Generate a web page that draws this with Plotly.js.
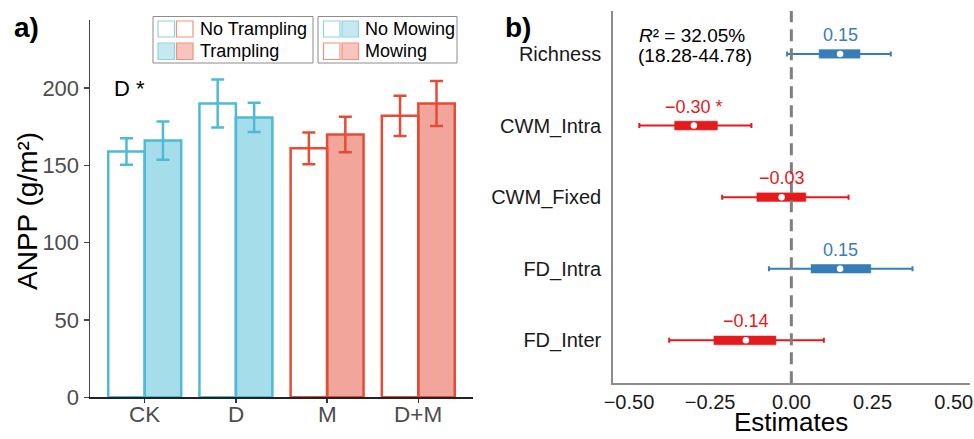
<!DOCTYPE html>
<html><head><meta charset="utf-8">
<script src="https://cdn.plot.ly/plotly-3.0.1.min.js"></script>
<style>html,body{margin:0;padding:0;background:#fff}#chart{width:974px;height:439px}</style>
</head><body><div id="chart"></div>
<script>
// ---------- Panel a data ----------
const treatments = ['CK', 'D', 'M', 'D+M'];
const anppNoTrampling = [159, 190, 161, 182];
const errNoTrampling = [8.6, 15.5, 10.3, 13.0];
const anppTrampling = [166, 181, 170, 190];
const errTrampling = [12.4, 9.5, 11.5, 14.5];
const mowingGroup = ['No Mowing', 'No Mowing', 'Mowing', 'Mowing'];

// ---------- Panel b data ----------
const predictors = ['Richness', 'CWM_Intra', 'CWM_Fixed', 'FD_Intra', 'FD_Inter'];
const estimates = [0.15, -0.30, -0.03, 0.15, -0.14];
const ci50Low = [0.084, -0.361, -0.108, 0.059, -0.240];
const ci50High = [0.213, -0.226, 0.046, 0.246, -0.046];
const ci95Low = [-0.013, -0.468, -0.213, -0.069, -0.376];
const ci95High = [0.306, -0.123, 0.176, 0.373, 0.100];
const significant = [false, true, false, false, false];

const W = 974, H = 439;
const px = x => x / W, py = y => 1 - y / H;
const FONT = 'Liberation Sans, Arial, sans-serif';

const BLUE = '#4DBBD5', RED = '#E64B35';
const BLUE_F = 'rgba(77,187,213,0.5)', RED_F = 'rgba(230,75,53,0.5)';
const POS = '#377EB8', NEG = '#E41A1C';

const traces = [];
['No Mowing', 'Mowing'].forEach(g => {
  const idx = mowingGroup.map((m, i) => m === g ? i : -1).filter(i => i >= 0);
  const edge = g === 'Mowing' ? RED : BLUE;
  const fill = g === 'Mowing' ? RED_F : BLUE_F;
  traces.push({
    type: 'bar', xaxis: 'x', yaxis: 'y',
    x: idx.map(i => treatments[i]), y: idx.map(i => anppNoTrampling[i]),
    width: 0.4, offset: -0.4,
    marker: {color: '#ffffff', line: {color: edge, width: 2.5}},
    error_y: {type: 'data', array: idx.map(i => errNoTrampling[i]), color: edge, thickness: 2.5, width: 6.5},
    showlegend: false, hoverinfo: 'skip'
  });
  traces.push({
    type: 'bar', xaxis: 'x', yaxis: 'y',
    x: idx.map(i => treatments[i]), y: idx.map(i => anppTrampling[i]),
    width: 0.4, offset: 0,
    marker: {color: fill, line: {color: edge, width: 2.5}},
    error_y: {type: 'data', array: idx.map(i => errTrampling[i]), color: edge, thickness: 2.5, width: 6.5},
    showlegend: false, hoverinfo: 'skip'
  });
});

[true, false].forEach(pos => {
  const idx = estimates.map((e, i) => (e > 0) === pos ? i : -1).filter(i => i >= 0);
  const col = pos ? POS : NEG;
  traces.push({
    type: 'scatter', mode: 'markers', xaxis: 'x2', yaxis: 'y2',
    x: idx.map(i => estimates[i]), y: idx.map(i => predictors[i]),
    marker: {size: 1, color: 'rgba(0,0,0,0)'},
    error_x: {type: 'data', symmetric: false,
      array: idx.map(i => ci95High[i] - estimates[i]),
      arrayminus: idx.map(i => estimates[i] - ci95Low[i]),
      color: col, thickness: 2, width: 2.5},
    showlegend: false, hoverinfo: 'skip'
  });
  traces.push({
    type: 'bar', orientation: 'h', xaxis: 'x2', yaxis: 'y2',
    y: idx.map(i => predictors[i]),
    base: idx.map(i => ci50Low[i]),
    x: idx.map(i => ci50High[i] - ci50Low[i]),
    width: 0.135,
    marker: {color: col, line: {color: 'rgba(255,255,255,0.55)', width: 1}},
    showlegend: false, hoverinfo: 'skip'
  });
});
traces.push({
  type: 'scatter', mode: 'markers', xaxis: 'x2', yaxis: 'y2',
  x: estimates, y: predictors,
  marker: {size: 6.5, color: '#ffffff'},
  showlegend: false, hoverinfo: 'skip'
});

const annotations = [];
const shapes = [];
predictors.forEach((p, i) => {
  const v = estimates[i];
  const txt = (v < 0 ? '\u2212' : '') + Math.abs(v).toFixed(2) + (significant[i] ? ' *' : '');
  annotations.push({xref: 'x2', yref: 'y2', x: v, y: p, yshift: 19, showarrow: false,
    text: txt, font: {family: FONT, size: 18, color: v > 0 ? POS : NEG}});
});
// category labels of panel a
treatments.forEach(t => {
  annotations.push({xref: 'x', yref: 'paper', x: t, y: py(414), yanchor: 'middle', showarrow: false,
    text: t, font: {family: FONT, size: 22.5, color: '#4d4d4d'}});
});
shapes.push({type: 'line', xref: 'x2', yref: 'y2 domain', x0: 0, x1: 0, y0: 0, y1: 1,
  line: {color: '#7f7f7f', width: 3, dash: '12px,7px'}});

annotations.push({xref: 'paper', yref: 'paper', x: px(12), y: py(27), xanchor: 'left', yanchor: 'middle',
  showarrow: false, text: '<b>a)</b>', font: {family: FONT, size: 28, color: '#000'}});
annotations.push({xref: 'paper', yref: 'paper', x: px(503), y: py(27), xanchor: 'left', yanchor: 'middle',
  showarrow: false, text: '<b>b)</b>', font: {family: FONT, size: 28, color: '#000'}});
annotations.push({xref: 'paper', yref: 'paper', x: px(112), y: py(88), xanchor: 'left', yanchor: 'middle',
  showarrow: false, text: 'D *', font: {family: FONT, size: 22, color: '#000'}});
annotations.push({xref: 'paper', yref: 'paper', x: px(27), y: py(211), xanchor: 'center', yanchor: 'middle',
  textangle: -90, showarrow: false, text: 'ANPP (g/m²)', font: {family: FONT, size: 28, color: '#000'}});
annotations.push({xref: 'paper', yref: 'paper', x: px(637), y: py(35), xanchor: 'left', yanchor: 'middle',
  showarrow: false, text: '<i>R</i>² = 32.05%', font: {family: FONT, size: 19, color: '#000'}});
annotations.push({xref: 'paper', yref: 'paper', x: px(636), y: py(56), xanchor: 'left', yanchor: 'middle',
  showarrow: false, text: '(18.28-44.78)', font: {family: FONT, size: 19, color: '#000'}});
annotations.push({xref: 'paper', yref: 'paper', x: px(791), y: 0, xanchor: 'center', yanchor: 'bottom',
  showarrow: false, text: 'Estimates', font: {family: FONT, size: 26, color: '#000'}});

function rect(x0, y0, x1, y1, fill, line, lw) {
  shapes.push({type: 'rect', xref: 'paper', yref: 'paper', x0: px(x0), x1: px(x1), y0: py(y1), y1: py(y0),
    fillcolor: fill, line: {color: line, width: lw}});
}
function ltext(x, y, t) {
  annotations.push({xref: 'paper', yref: 'paper', x: px(x), y: py(y), xanchor: 'left', yanchor: 'middle',
    showarrow: false, text: t, font: {family: FONT, size: 18, color: '#000'}});
}
const LB = '#8ED3E4', LR = '#F2907F', LBF = 'rgba(77,187,213,0.32)', LRF = 'rgba(230,75,53,0.32)';
rect(153, 16.5, 313, 63, 'rgba(0,0,0,0)', '#8c8c8c', 1);
rect(158, 21, 174.5, 37, '#fff', LB, 1.2); rect(176.5, 21, 193, 37, '#fff', LR, 1.2);
rect(158, 43, 174.5, 59.5, LBF, LB, 1.2); rect(176.5, 43, 193, 59.5, LRF, LR, 1.2);
ltext(198, 29, 'No Trampling'); ltext(198, 51, 'Trampling');
rect(318, 16.5, 457, 63, 'rgba(0,0,0,0)', '#8c8c8c', 1);
rect(323.5, 21, 340, 37, '#fff', LB, 1.2); rect(342, 21, 358.5, 37, LBF, LB, 1.2);
rect(323.5, 43, 340, 59.5, '#fff', LR, 1.2); rect(342, 43, 358.5, 59.5, LRF, LR, 1.2);
ltext(363, 29, 'No Mowing'); ltext(363, 51, 'Mowing');

const layout = {
  width: W, height: H, margin: {l: 0, r: 0, t: 0, b: 0},
  paper_bgcolor: '#fff', plot_bgcolor: 'rgba(0,0,0,0)',
  barmode: 'overlay', showlegend: false,
  font: {family: FONT},
  xaxis: {domain: [px(90), px(473)], type: 'category', categoryorder: 'array', categoryarray: treatments,
    range: [-0.6, 3.6], showline: true, linecolor: '#222', linewidth: 1.5, ticks: 'outside', ticklen: 4,
    tickcolor: '#333', tickwidth: 1.5, showticklabels: false,
    showgrid: false, zeroline: false, fixedrange: true, automargin: false},
  yaxis: {domain: [py(397.3), py(20)], range: [0, 244], showline: true, linecolor: '#444', linewidth: 1.5,
    ticks: 'outside', ticklen: 5, tickcolor: '#444', tickwidth: 1.5, tickvals: [0, 50, 100, 150, 200],
    tickfont: {family: FONT, size: 22, color: '#4d4d4d'}, showgrid: false, zeroline: false, automargin: false},
  xaxis2: {anchor: 'y2', domain: [px(612.7), px(970)], range: [-0.55, 0.55],
    tickvals: [-0.5, -0.25, 0, 0.25, 0.5], ticktext: ['\u22120.50', '\u22120.25', '0.00', '0.25', '0.50'],
    showline: true, linecolor: '#8c8c8c', linewidth: 1.5, ticks: '', showgrid: false, zeroline: false,
    tickfont: {family: FONT, size: 20, color: '#1a1a1a'}, automargin: false},
  yaxis2: {anchor: 'x2', domain: [py(383.3), py(11)], type: 'category', categoryorder: 'array',
    categoryarray: predictors.slice().reverse(), range: [-0.6, 4.6],
    showline: true, linecolor: '#8c8c8c', linewidth: 1.5, ticks: '', showgrid: false, zeroline: false,
    ticklabelstandoff: 6, tickfont: {family: FONT, size: 20, color: '#1a1a1a'}, automargin: false},
  shapes: shapes, annotations: annotations
};
Plotly.newPlot('chart', traces, layout, {staticPlot: true, displayModeBar: false});
</script></body></html>
